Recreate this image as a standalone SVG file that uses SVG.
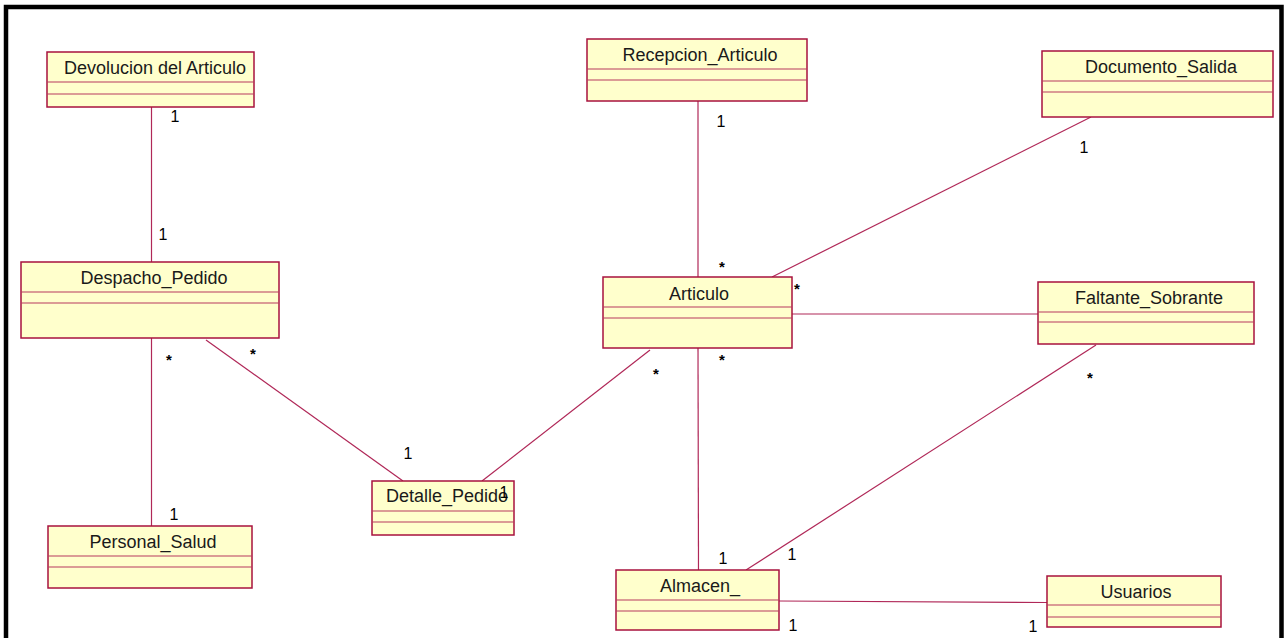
<svg xmlns="http://www.w3.org/2000/svg" width="1286" height="638" viewBox="0 0 1286 638">
  <style>
    .box { fill: #FFFFCC; stroke: #A8123E; stroke-width: 1.5; }
    .div { stroke: #B83A5E; stroke-width: 1.2; }
    .name { font-family: "Liberation Sans", Arial, sans-serif; font-size: 18px; fill: #1a1a1a; text-anchor: middle; }
    .conn line { stroke: #B02858; stroke-width: 1.2; }
    .mult { font-family: "Liberation Sans", Arial, sans-serif; font-size: 16px; fill: #000; text-anchor: middle; }
    .star { font-family: "Liberation Sans", Arial, sans-serif; font-size: 15px; font-weight: bold; fill: #000; text-anchor: middle; }
  </style>

  <rect width="1286" height="638" fill="#ffffff"/>
  <!-- outer frame -->
  <path d="M6,645 V7 H1281.5 V645" fill="none" stroke="#000" stroke-width="4.5"/>

  <!-- associations -->
  <g id="connectors" class="conn">
    <line x1="151.5" y1="107" x2="151.5" y2="262"/>
    <line x1="151.5" y1="338" x2="151.5" y2="526"/>
    <line x1="206" y1="340" x2="403" y2="481"/>
    <line x1="650" y1="350" x2="482" y2="481"/>
    <line x1="698" y1="101" x2="698" y2="277"/>
    <line x1="1091" y1="117" x2="772" y2="277"/>
    <line x1="792" y1="314" x2="1038" y2="314"/>
    <line x1="698" y1="348" x2="698.5" y2="570"/>
    <line x1="1096" y1="345" x2="746" y2="570"/>
    <line x1="779" y1="601" x2="1047" y2="602.5"/>
  </g>

  <!-- classes -->
  <g id="devolucion-articulo">
    <rect class="box" x="47" y="52" width="207" height="55"/>
    <line class="div" x1="47" y1="82" x2="254" y2="82"/>
    <line class="div" x1="47" y1="94" x2="254" y2="94"/>
    <text class="name" x="155" y="74">Devolucion del Articulo</text>
  </g>

  <g id="recepcion-articulo">
    <rect class="box" x="587" y="39" width="220" height="62"/>
    <line class="div" x1="587" y1="69" x2="807" y2="69"/>
    <line class="div" x1="587" y1="80" x2="807" y2="80"/>
    <text class="name" x="700" y="61">Recepcion_Articulo</text>
  </g>

  <g id="documento-salida">
    <rect class="box" x="1042" y="51" width="231" height="66"/>
    <line class="div" x1="1042" y1="81" x2="1273" y2="81"/>
    <line class="div" x1="1042" y1="92" x2="1273" y2="92"/>
    <text class="name" x="1161" y="73">Documento_Salida</text>
  </g>

  <g id="despacho-pedido">
    <rect class="box" x="21" y="262" width="258" height="76"/>
    <line class="div" x1="21" y1="292" x2="279" y2="292"/>
    <line class="div" x1="21" y1="303" x2="279" y2="303"/>
    <text class="name" x="154" y="284">Despacho_Pedido</text>
  </g>

  <g id="articulo">
    <rect class="box" x="603" y="277" width="189" height="71"/>
    <line class="div" x1="603" y1="307" x2="792" y2="307"/>
    <line class="div" x1="603" y1="318" x2="792" y2="318"/>
    <text class="name" x="699" y="299.5">Articulo</text>
  </g>

  <g id="faltante-sobrante">
    <rect class="box" x="1038" y="282" width="216" height="62"/>
    <line class="div" x1="1038" y1="312" x2="1254" y2="312"/>
    <line class="div" x1="1038" y1="322" x2="1254" y2="322"/>
    <text class="name" x="1149" y="304">Faltante_Sobrante</text>
  </g>

  <g id="detalle-pedido">
    <rect class="box" x="372" y="481" width="142" height="54"/>
    <line class="div" x1="372" y1="511" x2="514" y2="511"/>
    <line class="div" x1="372" y1="522" x2="514" y2="522"/>
    <text class="name" x="447" y="502">Detalle_Pedido</text>
  </g>

  <g id="personal-salud">
    <rect class="box" x="48" y="526" width="204" height="62"/>
    <line class="div" x1="48" y1="556" x2="252" y2="556"/>
    <line class="div" x1="48" y1="567" x2="252" y2="567"/>
    <text class="name" x="153" y="548">Personal_Salud</text>
  </g>

  <g id="almacen">
    <rect class="box" x="616" y="570" width="163" height="60"/>
    <line class="div" x1="616" y1="600" x2="779" y2="600"/>
    <line class="div" x1="616" y1="611" x2="779" y2="611"/>
    <text class="name" x="700" y="592">Almacen_</text>
  </g>

  <g id="usuarios">
    <rect class="box" x="1047" y="576" width="174" height="51"/>
    <line class="div" x1="1047" y1="605" x2="1221" y2="605"/>
    <line class="div" x1="1047" y1="617" x2="1221" y2="617"/>
    <text class="name" x="1136" y="598">Usuarios</text>
  </g>

  <!-- multiplicities -->
  <g id="multiplicities">
    <text class="mult" x="175" y="122">1</text>
    <text class="mult" x="163" y="240">1</text>
    <text class="star" x="169" y="365">*</text>
    <text class="star" x="253" y="359">*</text>
    <text class="mult" x="174" y="520">1</text>
    <text class="mult" x="408" y="459">1</text>
    <text class="mult" x="504" y="498">1</text>
    <text class="star" x="656" y="379">*</text>
    <text class="mult" x="721" y="127">1</text>
    <text class="star" x="722" y="272">*</text>
    <text class="star" x="797" y="294">*</text>
    <text class="mult" x="1084" y="153">1</text>
    <text class="star" x="1090" y="383">*</text>
    <text class="star" x="722" y="365">*</text>
    <text class="mult" x="723" y="564">1</text>
    <text class="mult" x="792" y="560">1</text>
    <text class="mult" x="793" y="631">1</text>
    <text class="mult" x="1033" y="632">1</text>
  </g>
</svg>
